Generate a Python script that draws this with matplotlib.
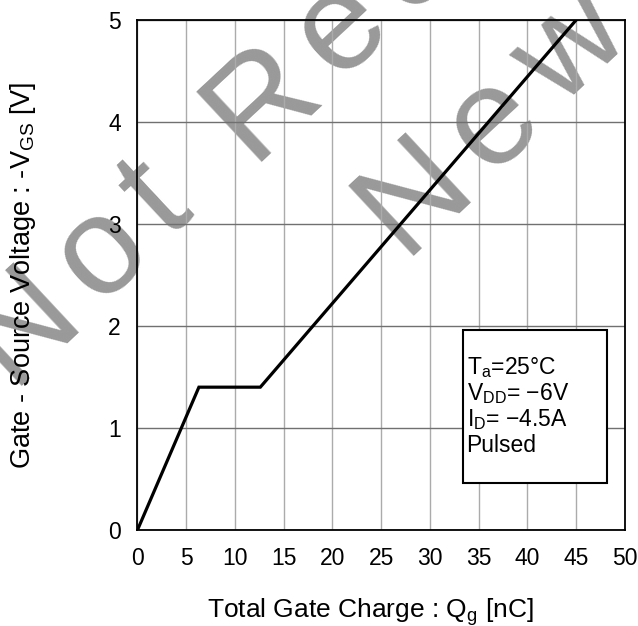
import numpy as np
import matplotlib
matplotlib.use('Agg')
import matplotlib.pyplot as plt
from matplotlib.patches import Rectangle
from matplotlib.font_manager import FontProperties, findfont
from matplotlib.ft2font import FT2Font

plt.rcParams['font.family'] = 'Liberation Sans'
plt.rcParams['mathtext.fontset'] = 'custom'
plt.rcParams['mathtext.rm'] = 'Liberation Sans'
plt.rcParams['axes.unicode_minus'] = False

# gate charge curve
qg = [0, 6.3, 12.6, 45]
vgs = [0, 1.4, 1.4, 5]

xticks = [0, 5, 10, 15, 20, 25, 30, 35, 40, 45, 50]
yticks = [0, 1, 2, 3, 4, 5]

cond_lines = [r'T$_\mathregular{a}$=25°C',
              r'V$_\mathregular{DD}$= −6V',
              r'I$_\mathregular{D}$= −4.5A',
              'Pulsed']

wm_lines = ['Not Recommended', 'New Design']

DPI = 100
W, H = 638, 626
fig = plt.figure(figsize=(W / DPI, H / DPI), dpi=DPI)
ax = fig.add_axes([0.2155, 0.1534, 0.764, 0.8147])

# watermark, spaced-out letters, drawn behind the grid
wm_size = 100.8
wm_rot = 43
wm_track = 18  # extra px between letters
ft = FT2Font(findfont(FontProperties(family='Liberation Sans')))
ft.set_size(wm_size, DPI)
u = np.array([np.cos(np.radians(wm_rot)), -np.sin(np.radians(wm_rot))])  # pixel dir, y down

def watermark(s, x0, y0):
    p = np.array([x0, y0], float)
    for ch in s:
        if ch != ' ':
            ax.text(p[0] / W, 1 - p[1] / H, ch, fontsize=wm_size, color='#999999',
                    rotation=wm_rot, rotation_mode='anchor', ha='left', va='baseline',
                    transform=fig.transFigure, clip_on=False, zorder=0.1)
        adv = ft.load_char(ord(ch)).linearHoriAdvance / 65536.0
        p = p + (adv + wm_track) * u

watermark(wm_lines[0], 10, 386)
watermark(wm_lines[1], 402, 256)

ax.plot(qg, vgs, color='black', lw=2.3, zorder=3, solid_joinstyle='miter')

ax.set_xlim(0, 50)
ax.set_ylim(0, 5)
ax.set_xticks(xticks)
ax.set_yticks(yticks)
ax.tick_params(length=0, labelsize=16.5, pad=12)
ax.set_axisbelow(True)
ax.xaxis.grid(True, color='#ababab', lw=1)
ax.yaxis.grid(True, color='#707070', lw=1)
ax.patch.set_alpha(0)
for s in ax.spines.values():
    s.set_linewidth(1.3)

ax.set_xlabel(r'Total Gate Charge : Q$_\mathregular{g}$ [nC]', fontsize=19)
ax.set_ylabel(r'Gate - Source Voltage : -V$_\mathregular{GS}$ [V]', fontsize=19.5)
ax.xaxis.set_label_coords(0.477, -0.13)
ax.yaxis.set_label_coords(-0.205, 0.5)

# conditions box
ax.add_patch(Rectangle((0.667, 0.092), 0.296, 0.30, transform=ax.transAxes,
                       facecolor='white', edgecolor='black', lw=1.5, zorder=4))
for i, t in enumerate(cond_lines):
    ax.text(0.675, 0.318 - i * 0.051, t, transform=ax.transAxes, fontsize=16.5,
            va='center', ha='left', zorder=5)

fig.savefig('out.png', dpi=DPI)
